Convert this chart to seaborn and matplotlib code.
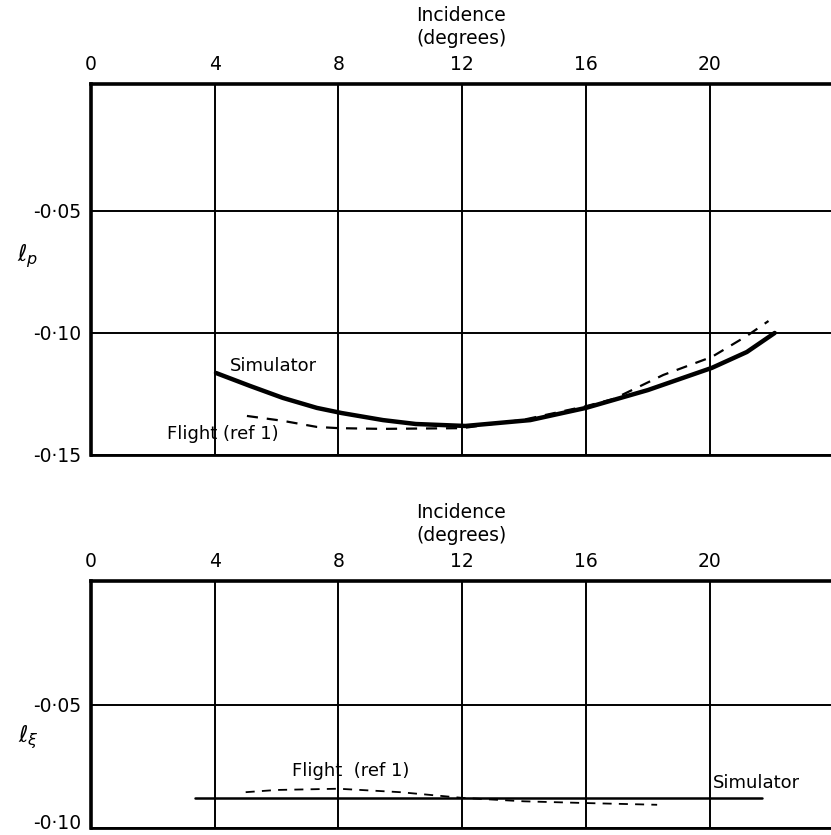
import matplotlib
matplotlib.use("Agg")
import matplotlib.pyplot as plt
import matplotlib.transforms as mtransforms
import seaborn as sns

# ── Data ───────────────────────────────────────────────────────────────────
# top panel: l_p against incidence (degrees)
LP_SIM_X = [4.04, 5.14, 6.2, 7.3, 8.1, 9.44, 10.5, 12.1, 14.2, 16.0, 18.0, 20.07, 21.2, 22.1]
LP_SIM_Y = [-0.1164, -0.1217, -0.1266, -0.1307, -0.1328, -0.1357, -0.1373, -0.1381,
            -0.1357, -0.1307, -0.1234, -0.1143, -0.1078, -0.100]
LP_FLT_X = [5.04, 6.2, 7.3, 8.0, 9.4, 12.0, 14.0, 16.0, 16.9, 18.5, 20.07, 21.2, 21.9]
LP_FLT_Y = [-0.134, -0.136, -0.1385, -0.139, -0.1393, -0.139, -0.1355, -0.130,
            -0.127, -0.1172, -0.1098, -0.1012, -0.0951]

# bottom panel: l_xi against incidence (degrees)
LX_SIM_X = [3.35, 21.7]
LX_SIM_Y = [-0.0878, -0.0878]
LX_FLT_X = [5, 6, 8, 10, 12, 14, 16, 18.3]
LX_FLT_Y = [-0.0855, -0.0846, -0.0841, -0.0855, -0.0878, -0.0892, -0.0899, -0.0906]

X_TICKS = [0, 4, 8, 12, 16, 20]
LP_YTICKS = [-0.05, -0.10, -0.15]
LP_YLABELS = ["-0·05", "-0·10", "-0·15"]
LX_YTICKS = [-0.05, -0.10]
LX_YLABELS = ["-0·05", "-0·10"]

FS = 13.5   # tick labels
AFS = 13    # curve labels

sns.set_style("white")
plt.rcParams.update({
    "font.family": ["DejaVu Sans"],
    "text.color": "black",
    "axes.labelcolor": "black",
    "xtick.color": "black",
    "ytick.color": "black",
})

fig = plt.figure(figsize=(8.31, 8.35), dpi=100)
W, H = 831, 835


def add_axes(left, top, right, bottom):
    return fig.add_axes([left / W, 1 - bottom / H, (right - left) / W, (bottom - top) / H])


def style_axes(ax, ylim, yticks, ylabels, ylab, ylab_y):
    ax.set_xlim(0, 23.92)
    ax.set_ylim(*ylim)
    ax.xaxis.tick_top()
    ax.xaxis.set_label_position("top")
    ax.set_xticks(X_TICKS)
    ax.set_xticklabels([str(t) for t in X_TICKS], fontsize=FS)
    ax.set_yticks(yticks)
    ax.set_yticklabels(ylabels, fontsize=FS)
    ax.tick_params(length=0, pad=7)
    ax.set_xlabel("Incidence\n(degrees)", fontsize=FS, labelpad=8, linespacing=1.3)
    ax.set_ylabel(ylab, fontsize=FS + 3, rotation=0)
    ax.yaxis.set_label_coords(-0.085, ylab_y)
    for t in X_TICKS[1:]:
        ax.axvline(t, color="black", lw=1.4, zorder=1)
    for t in yticks:
        ax.axhline(t, color="black", lw=1.4, zorder=1)
    ax.spines["left"].set_linewidth(2.6)
    ax.spines["top"].set_linewidth(2.6)
    ax.spines["bottom"].set_linewidth(2.0)
    ax.spines["right"].set_visible(False)
    for s in ax.spines.values():
        s.set_color("black")


# ── Top panel ──────────────────────────────────────────────────────────────
ax1 = add_axes(91, 84, 831, 455)
sns.lineplot(x=LP_SIM_X, y=LP_SIM_Y, ax=ax1, color="black", lw=3.2, zorder=3)
sns.lineplot(x=LP_FLT_X, y=LP_FLT_Y, ax=ax1, color="black", lw=1.6,
             linestyle=(0, (5, 4)), zorder=3)
style_axes(ax1, (-0.15, 0.002), LP_YTICKS, LP_YLABELS, r"$\ell_p$", 0.50)
ax1.text(4.5, -0.1135, "Simulator", fontsize=AFS, ha="left", va="center")
ax1.text(2.45, -0.1415, "Flight (ref 1)", fontsize=AFS, ha="left", va="center")

# ── Bottom panel ───────────────────────────────────────────────────────────
ax2 = add_axes(91, 581, 831, 828)
sns.lineplot(x=LX_SIM_X, y=LX_SIM_Y, ax=ax2, color="black", lw=1.8, zorder=3)
sns.lineplot(x=LX_FLT_X, y=LX_FLT_Y, ax=ax2, color="black", lw=1.3,
             linestyle=(0, (5, 4)), zorder=3)
style_axes(ax2, (-0.10, 0.0), LX_YTICKS, LX_YLABELS, r"$\ell_\xi$", 0.31)
ax2.text(6.5, -0.0770, "Flight  (ref 1)", fontsize=AFS, ha="left", va="center")
ax2.text(20.1, -0.0818, "Simulator", fontsize=AFS, ha="left", va="center")

# keep the lowest tick label inside the picture
lift = mtransforms.ScaledTranslation(0, 5 / 72, fig.dpi_scale_trans)
last = ax2.get_yticklabels()[-1]
last.set_transform(last.get_transform() + lift)

fig.savefig("out.png", dpi=100)
